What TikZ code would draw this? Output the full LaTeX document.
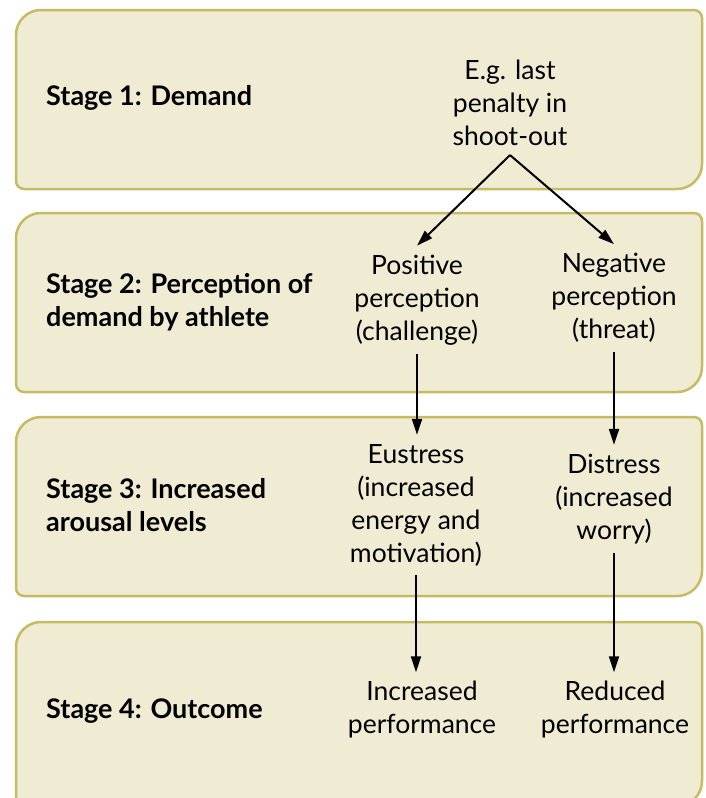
\documentclass[tikz,border=0pt]{standalone}
\usepackage{fontspec}
\setmainfont{Lato}
\usetikzlibrary{positioning, arrows.meta}
\definecolor{PanelFill}{RGB}{240, 236, 212}
\definecolor{PanelEdge}{RGB}{198, 186, 98}

\tikzset{
  panel/.style={draw=PanelEdge, fill=PanelFill, line width=2.5pt},
  stagelabel/.style={anchor=west, align=left, font=\fontsize{27}{33}\selectfont\bfseries, inner sep=0pt},
  steptext/.style={align=center, font=\fontsize{26.5}{33}\selectfont, inner sep=9pt},
  flow/.style={-{Triangle[length=16pt,width=10pt]}, line width=2pt}
}

% one stage panel: big round top-left and bottom-right, small round the others
\newcommand\stagepanel[2]{%
  \draw[panel] (16,#1+25) arc (180:270:25) -- (694,#1) arc (270:360:8)
    -- (702,#2-25) arc (0:90:25) -- (24,#2) arc (90:180:8) -- cycle;}

\begin{document}
\begin{tikzpicture}[x=1pt, y=-1pt]
    \clip (0,0) rectangle (706,798);

    % Panels
    \stagepanel{10}{189}
    \stagepanel{213}{392}
    \stagepanel{417}{596}
    \stagepanel{622}{806}

    % Stage names
    \node[stagelabel] (stage1) at (46,98) {Stage 1: Demand};
    \node[stagelabel] (stage2) at (46,302) {Stage 2: Perception of\\demand by athlete};
    \node[stagelabel] (stage3) at (46,505) {Stage 3: Increased\\arousal levels};
    \node[stagelabel] (stage4) at (46,711) {Stage 4: Outcome};

    % Demand and its paths
    \node[steptext] (demand) at (510,103) {E.g. last\\penalty in\\shoot-out};
    \node[steptext] (pos) at (417,300) {Positive\\perception\\(challenge)};
    \node[steptext] (neg) at (614,298) {Negative\\perception\\(threat)};
    \node[steptext] (eu) at (416,505) {Eustress\\(increased\\energy and\\motivation)};
    \node[steptext] (dis) at (614,499) {Distress\\(increased\\worry)};
    \node[steptext] (incperf) at (422,710) {Increased\\performance};
    \node[steptext] (redperf) at (615,710) {Reduced\\performance};

    % Arrows
    \draw[flow] (demand.south) -- (pos.north);
    \draw[flow] (demand.south) -- (neg.north);
    \draw[flow] (pos.south) -- (pos.south |- eu.north);
    \draw[flow] (neg.south) -- (neg.south |- dis.north);
    \draw[flow] (eu.south) -- (eu.south |- incperf.north);
    \draw[flow] (dis.south) -- (dis.south |- redperf.north);
\end{tikzpicture}
\end{document}
